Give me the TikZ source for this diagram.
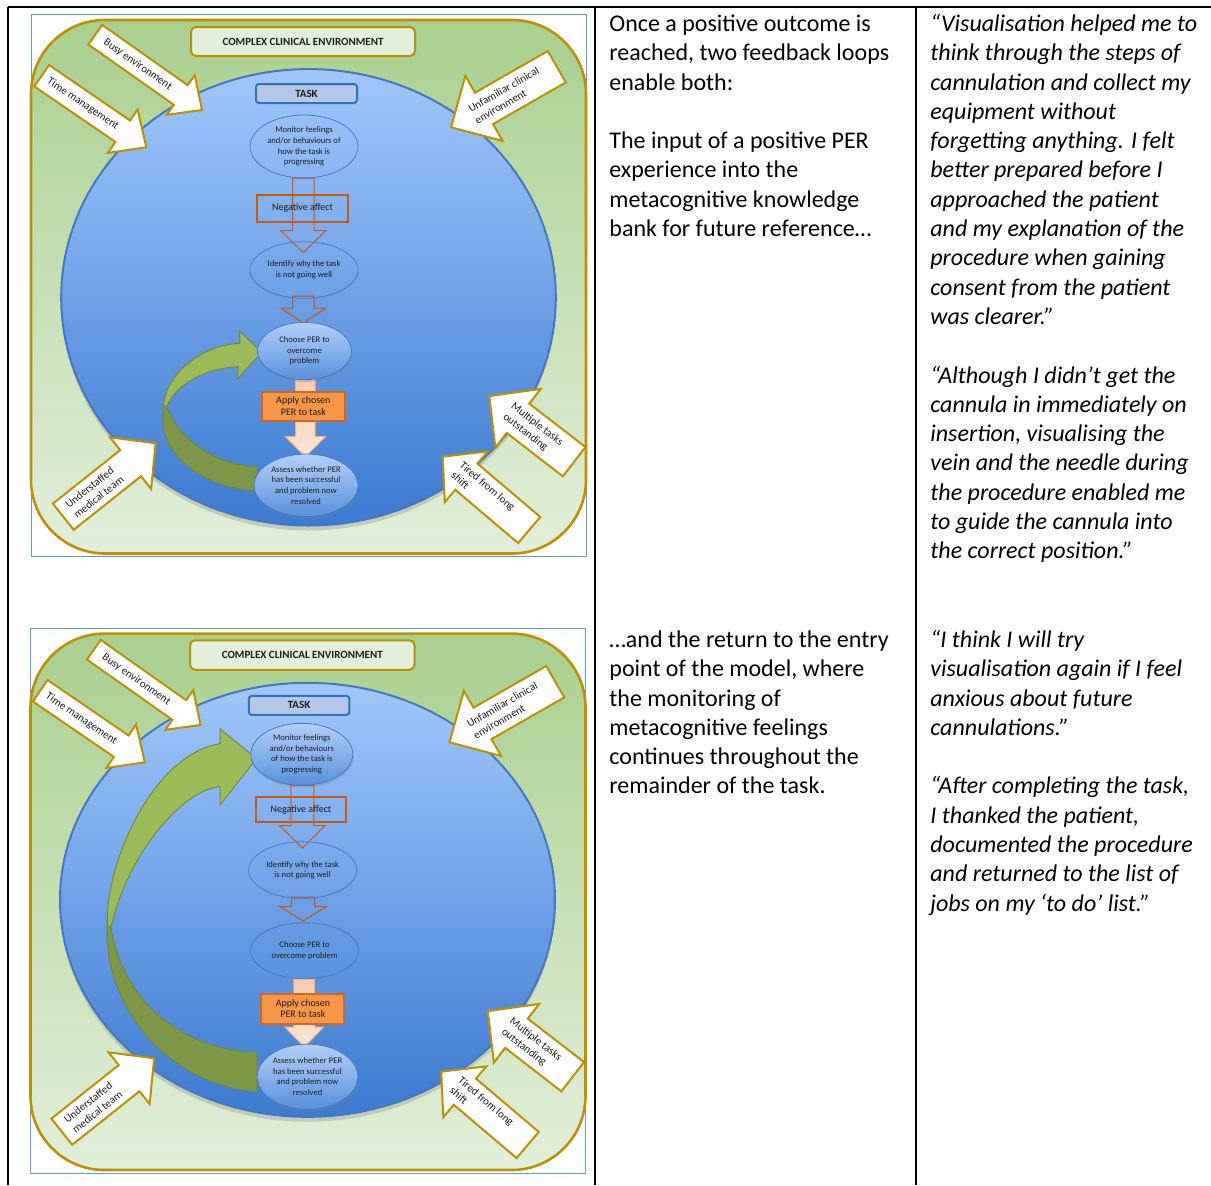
\documentclass[tikz,border=0pt]{standalone}
\usepackage{fontspec}
\setmainfont{Carlito}
\usetikzlibrary{shapes.geometric,shadows}

\definecolor{gold}{HTML}{BF9000}
\definecolor{envtop}{HTML}{A9D18E}
\definecolor{envbot}{HTML}{E2EFDA}
\definecolor{framebl}{HTML}{5B9BD5}
\definecolor{circtop}{RGB}{160,200,252}
\definecolor{circbot}{RGB}{58,122,208}
\definecolor{circline}{RGB}{70,120,190}
\definecolor{taskfill}{HTML}{B4C7E7}
\definecolor{taskline}{HTML}{2E75B6}
\definecolor{rust}{HTML}{C55A11}
\definecolor{applyfill}{HTML}{F79646}
\definecolor{applyline}{RGB}{205,105,40}
\definecolor{peachtop}{HTML}{F8CBAD}
\definecolor{peachbot}{HTML}{FDE6D4}
\definecolor{peachline}{HTML}{F4B183}
\definecolor{loopdark}{RGB}{126,152,71}
\definecolor{looplight}{RGB}{155,187,89}
\definecolor{loopline}{RGB}{113,137,63}
\definecolor{elltop}{RGB}{178,208,248}
\definecolor{ellbot}{RGB}{88,145,220}
\definecolor{ellline}{RGB}{75,120,190}
\definecolor{inktext}{RGB}{30,30,30}

% fixed height of the first line of a text column, so that its top is known
\newcommand{\firstline}{\rule{0pt}{10pt}}

\tikzset{
  rule/.style={line width=1pt, draw=black},
  prose/.style={anchor=north west, inner sep=0pt, align=left,
    font=\fontsize{12}{14.65}\selectfont},
  quotetext/.style={prose, font=\fontsize{12}{14.65}\selectfont\itshape},
  framebox/.style={draw=framebl, line width=0.5pt, fill=white},
  envbox/.style={draw=gold, line width=1.3pt, rounded corners=37pt,
    top color=envtop, bottom color=envbot},
  titlebox/.style={draw=gold, line width=1pt, fill=envbot, rounded corners=2.5pt,
    inner sep=0pt, text=inktext, font=\fontsize{5.5}{6.5}\selectfont\bfseries},
  pool/.style={ellipse, draw=circline, line width=1pt, inner sep=0pt,
    top color=circtop, bottom color=circbot,
    drop shadow={shadow xshift=0pt, shadow yshift=-2.5pt, opacity=0.3}},
  taskbox/.style={draw=taskline, line width=1pt, fill=taskfill, rounded corners=1.5pt,
    inner sep=0pt, text=inktext, font=\fontsize{5.5}{6.5}\selectfont\bfseries},
  stepfill/.style={ellipse, inner sep=0pt, draw=ellline, line width=0.4pt,
    top color=elltop, bottom color=ellbot, align=center, text=inktext,
    drop shadow={shadow xshift=0.5pt, shadow yshift=-1.2pt, opacity=0.3},
    font=\fontsize{4.3}{5.3}\selectfont},
  stepline/.style={ellipse, inner sep=0pt, draw=ellline, line width=0.4pt,
    align=center, text=inktext, font=\fontsize{4.3}{5.3}\selectfont},
  hollowarrow/.style={draw=rust, line width=0.5pt, line join=miter},
  negbox/.style={draw=rust, line width=1pt, inner sep=0pt, text=inktext,
    font=\fontsize{5}{6}\selectfont},
  applybox/.style={draw=applyline, fill=applyfill, line width=1pt, inner sep=0pt,
    align=center, text=inktext, font=\fontsize{5}{5.9}\selectfont,
    drop shadow={shadow xshift=0.5pt, shadow yshift=-0.8pt, opacity=0.25}},
  peacharrow/.style={draw=peachline, line width=0.5pt, top color=peachtop,
    bottom color=peachbot},
  loopdarkfill/.style={fill=loopdark, draw=loopline, line width=0.5pt},
  looplightfill/.style={fill=looplight, draw=loopline, line width=0.5pt},
  envarrow/.style={draw=gold, line width=1pt, fill=white, line join=miter},
  envlabel/.style={inner sep=0pt, align=left, text=inktext,
    font=\fontsize{5.5}{6.6}\selectfont},
}

% white block arrow: name, tail centre, direction, length, shaft width,
% head width, head length, label position along the axis, label
\newcommand{\envarrow}[9]{%
  \pgfmathsetmacro\labang{ifthenelse(abs(#3)>90,#3-180,#3)}%
  \begin{scope}[shift={#2}, rotate=#3]
    \draw[envarrow] (0,-#5/2) -- (#4-#7,-#5/2) -- (#4-#7,-#6/2) -- (#4,0)
      -- (#4-#7,#6/2) -- (#4-#7,#5/2) -- (0,#5/2) -- cycle;
    \node[envlabel, rotate=\labang] (#1) at (#8,0) {#9};
  \end{scope}}

\newcommand{\envarrowset}[1]{%
  \envarrow{busy#1}{(95.3,34.7)}{-35.2}{130.6}{24}{48.5}{26}{52}{Busy environment}
  \envarrow{time#1}{(41.7,75.7)}{-34.4}{126.8}{26}{52.7}{28.6}{50}{Time management}
  \envarrow{unfam#1}{(556.8,66.7)}{-150.2}{121.9}{36.2}{75}{38}{57.5}{Unfamiliar clinical\\environment}
  \envarrow{multi#1}{(574.2,461.7)}{142.3}{107.3}{37}{74.2}{36.3}{52}{Multiple tasks\\outstanding}
  \envarrow{tired#1}{(529.2,530)}{139.7}{113.4}{34.3}{66.6}{31}{60}{Tired from long\\shift}
  \envarrow{staff#1}{(63.3,516.7)}{38.5}{118}{33.4}{66}{32}{40}{Understaffed\\medical team}}

% downward block arrows: centre x, top, head base, tip, shaft width, head width
\newcommand{\hollowdown}[6]{%
  \draw[hollowarrow] (#1-#5/2,#2) -- (#1-#5/2,#3) -- (#1-#6/2,#3) -- (#1,#4)
    -- (#1+#6/2,#3) -- (#1+#5/2,#3) -- (#1+#5/2,#2) -- cycle;}
\newcommand{\peachdown}[6]{%
  \path[peacharrow] (#1-#5/2,#2) -- (#1-#5/2,#3) -- (#1-#6/2,#3) -- (#1,#4)
    -- (#1+#6/2,#3) -- (#1+#5/2,#3) -- (#1+#5/2,#2) -- cycle;}

\begin{document}
\begin{tikzpicture}[x=0.5pt,y=-0.5pt]
\useasboundingbox (0,0) rectangle (1211,1185);

% ---------- table rules ----------
\draw[rule] (8,7) -- (1211,7);
\draw[rule] (8,7) -- (8,1185);
\draw[rule] (594.5,7) -- (594.5,1185);
\draw[rule] (916,7) -- (916,1185);

% ---------- first model ----------
\path[framebox] (31,14) rectangle (586,556);
\path[envbox] (31,20) rectangle (586,553.5);
\node[titlebox, minimum width=112pt, minimum height=14.5pt] (title1) at (303,41.5)
  {COMPLEX CLINICAL ENVIRONMENT};
\node[pool, minimum width=247.3pt, minimum height=228.2pt] (pool1) at (308.5,297.3) {};
\node[taskbox, minimum width=50.5pt, minimum height=9.5pt] (task1) at (306.5,93.5) {TASK};

% loop back to choosing a PER
\path[loopdarkfill] (163.3,405) -- (163.3,425) .. controls (168,465) and (215,489) .. (257,491)
  -- (257,467) .. controls (215,465) and (180,440) .. (166.7,407) -- cycle;
\path[looplightfill] (163.5,405) .. controls (166,375) and (200,345) .. (240,343.3)
  -- (239.3,330.7) -- (261.7,352.3) -- (237.3,379.3) -- (238.3,366.7)
  .. controls (205,368) and (175,385) .. (166.7,407) -- cycle;

\hollowdown{303.35}{178}{230.7}{252.7}{21.3}{45}
\hollowdown{303.35}{296}{308}{323}{21.3}{45.3}
\peachdown{305.35}{378}{436.7}{456.7}{19.3}{40}

\node[stepline, minimum width=54pt, minimum height=31.5pt] (mon1) at (304,146.5)
  {Monitor feelings\\and/or behaviours of\\how the task is\\progressing};
\node[stepline, minimum width=54pt, minimum height=28.3pt] (idf1) at (304,270)
  {Identify why the task\\is not going well};
\node[stepfill, minimum width=47pt, minimum height=28.7pt] (cho1) at (304.5,351)
  {Choose PER to\\overcome\\problem};
\node[stepfill, minimum width=52pt, minimum height=31.3pt] (ass1) at (306,485.3)
  {Assess whether PER\\has been successful\\and problem now\\resolved};
\node[negbox, minimum width=45.5pt, minimum height=13.35pt] (neg1) at (302.5,208.35)
  {Negative affect};
\node[applybox, minimum width=41.65pt, minimum height=14.5pt] (app1) at (303.35,406.2)
  {Apply chosen\\PER to task};

\envarrowset{1}

% ---------- second model ----------
\path[framebox] (30,628) rectangle (585.5,1173);
\path[envbox] (30.5,633.6) rectangle (585.5,1170);
\node[titlebox, minimum width=112.25pt, minimum height=14.75pt] (title2) at (302.25,655)
  {COMPLEX CLINICAL ENVIRONMENT};
\node[pool, minimum width=247.5pt, minimum height=217pt] (pool2) at (307.5,899.8) {};
\node[taskbox, minimum width=50.3pt, minimum height=9.5pt] (task2) at (299.1,705.4) {TASK};

% loop back to monitoring
\path[loopdarkfill] (107.2,922) -- (107.2,928) .. controls (105,1010) and (170,1085) .. (257.2,1091.8)
  -- (257.2,1052.2) .. controls (200,1052) and (125,1015) .. (111,928) -- cycle;
\path[looplightfill] (107.5,925) .. controls (104,870) and (150,755) .. (220,743.7)
  -- (220,728.7) -- (256.4,758.6) -- (220,805.2) -- (220,786.6)
  .. controls (180,790) and (125,860) .. (111,928) -- cycle;

\hollowdown{302.35}{785.4}{825.7}{848.1}{22.9}{45.1}
\hollowdown{303.1}{897}{906.7}{920.9}{23}{46}
\peachdown{304.25}{979}{1027.2}{1047}{20.7}{38.3}

\node[stepfill, minimum width=51pt, minimum height=31pt] (mon2) at (301.8,754.3)
  {Monitor feelings\\and/or behaviours\\of how the task is\\progressing};
\node[stepline, minimum width=54pt, minimum height=28.4pt] (idf2) at (302.7,870.1)
  {Identify why the task\\is not going well};
\node[stepline, minimum width=54pt, minimum height=28pt] (cho2) at (304.6,950.7)
  {Choose PER to\\overcome problem};
\node[stepfill, minimum width=50.3pt, minimum height=32.6pt] (ass2) at (307.5,1076.7)
  {Assess whether PER\\has been successful\\and problem now\\resolved};
\node[negbox, minimum width=45.35pt, minimum height=12.9pt] (neg2) at (300.95,809.5)
  {Negative affect};
\node[applybox, minimum width=41.5pt, minimum height=14.9pt] (app2) at (302.9,1008.6)
  {Apply chosen\\PER to task};

\begin{scope}[shift={(-1.5,615)}]
  \envarrowset{2}
\end{scope}

% ---------- explanatory text (first baselines at y = 31 and y = 647) ----------
\node[prose] (expl1) at (609,11)
  {\firstline Once a positive outcome is\\reached, two feedback loops\\enable both:\\[14.65pt]%
   The input of a positive PER\\experience into the\\metacognitive knowledge\\bank for future reference…};
\node[quotetext] (quote1) at (930,11)
  {\firstline “Visualisation helped me to\\think through the steps of\\cannulation and collect my\\equipment without\\forgetting anything. I felt\\better prepared before I\\approached the patient\\and my explanation of the\\procedure when gaining\\consent from the patient\\was clearer.”\\[14.65pt]%
   “Although I didn’t get the\\cannula in immediately on\\insertion, visualising the\\vein and the needle during\\the procedure enabled me\\to guide the cannula into\\the correct position.”};
\node[prose] (expl2) at (609,627)
  {\firstline …and the return to the entry\\point of the model, where\\the monitoring of\\metacognitive feelings\\continues throughout the\\remainder of the task.};
\node[quotetext] (quote2) at (930,627)
  {\firstline “I think I will try\\visualisation again if I feel\\anxious about future\\cannulations.”\\[14.65pt]%
   “After completing the task,\\I thanked the patient,\\documented the procedure\\and returned to the list of\\jobs on my ‘to do’ list.”};
\end{tikzpicture}
\end{document}
